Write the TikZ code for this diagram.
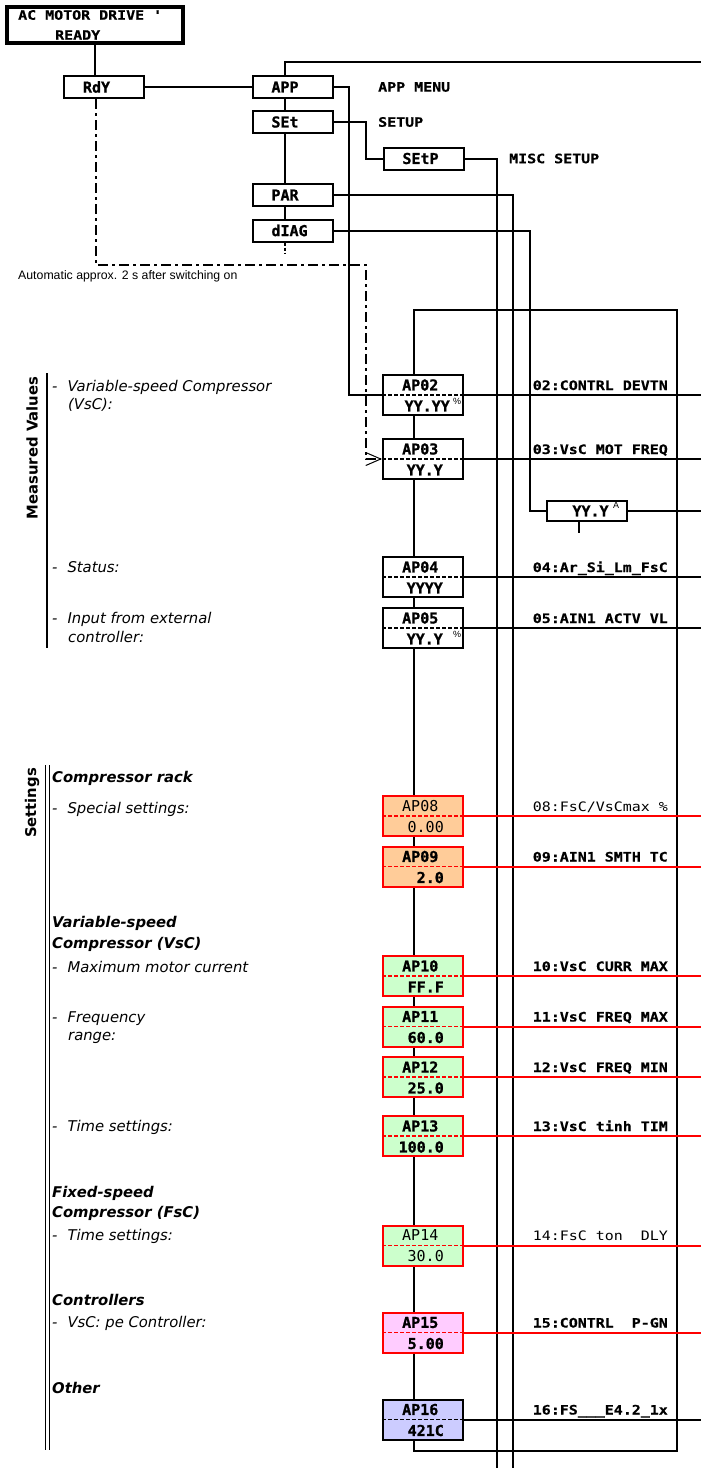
\documentclass[tikz,border=0pt]{standalone}
\usepackage{fontspec}
\setmainfont{DejaVu Sans}
\newfontfamily\lblmono[FakeStretch=1.15, BoldFeatures={FakeBold=0.5}]{DejaVu Sans Mono}
\newfontfamily\lcdmono[BoldFeatures={FakeBold=1}]{DejaVu Sans Mono}
\newfontfamily\smallsans{Liberation Sans}
\usetikzlibrary{arrows.meta}
\definecolor{peach}{HTML}{FFCC99}
\definecolor{mint}{HTML}{CCFFCC}
\definecolor{pinkf}{HTML}{FFCCFF}
\definecolor{lav}{HTML}{CCCCFF}
\definecolor{redl}{HTML}{FF0000}
\tikzset{
  ln/.style={line width=2pt},
  lbox/.style={draw, line width=2pt, fill=white, minimum width=80pt, minimum height=22pt,
    inner xsep=19pt, inner ysep=0pt, text width=42pt, align=left,
    font=\lcdmono\fontsize{15}{15}\selectfont\bfseries},
  apbox/.style={draw, line width=2pt, minimum width=80pt, minimum height=40pt, inner sep=0pt},
  aptitle/.style={inner sep=0pt, anchor=west},
  apvalue/.style={inner sep=0pt, anchor=east},
  lbl/.style={inner sep=0pt, anchor=base east},
  menu/.style={inner sep=0pt, anchor=west, font=\lblmono\fontsize{13}{15}\selectfont\bfseries},
  itxt/.style={inner sep=0pt, anchor=base west, font=\fontsize{14.8}{17}\selectfont\itshape},
  btxt/.style={inner sep=0pt, anchor=base west, font=\fontsize{14.8}{17}\selectfont\bfseries\itshape},
  supx/.style={inner sep=0pt, font=\smallsans\fontsize{9}{10}\selectfont},
  dashdot/.style={line width=1.5pt, dash pattern=on 10pt off 4pt on 3pt off 4pt},
  divider/.style={line width=1.2pt, dash pattern=on 4pt off 2pt},
}
% #1 name, #2 centre y, #3 title, #4 value, #5 fill, #6 line colour, #7 weight, #8 value right x, #9 label
\newcommand\APbox[9]{%
  \node[apbox, fill=#5, draw=#6] (#1) at (423,#2) {};
  \draw[divider, draw=#6] (#1.west) -- (#1.east);
  \node[aptitle, font=\lcdmono\fontsize{15}{15}\selectfont#7] (#1t) at (402,#2-10) {#3};
  \node[apvalue, font=\lcdmono\fontsize{15}{15}\selectfont#7] (#1v) at (#8,#2+11) {#4};
  \coordinate (#1r) at (701,#2);
  \draw[ln, draw=#6] (#1.east) -- (#1r);
  \node[lbl, font=\lblmono\fontsize{13}{15}\selectfont#7] (#1l) at (668,#2-5) {#9};
}
\begin{document}
\begin{tikzpicture}[x=1pt,y=-1pt]
\useasboundingbox (0,0) rectangle (701,1468);

% helper coordinates
\coordinate (xa) at (285,0);
\coordinate (xb) at (96,0);
\coordinate (xc) at (349,0);
\coordinate (xd) at (366,0);
\coordinate (xe) at (530,0);
\coordinate (xf) at (579,0);
\coordinate (topright) at (701,62);
\coordinate (diagend) at (285,254);
\coordinate (bot1) at (497,1468);
\coordinate (bot2) at (513,1468);
\coordinate (ddcorner) at (366,265);
\coordinate (ampstub) at (579,533);
\coordinate (ampR) at (701,511);
\coordinate (loopTL) at (414,310);
\coordinate (loopTR) at (677,310);
\coordinate (loopBR) at (677,1451);
\coordinate (loopBL) at (414,1451);
\coordinate (mvtop) at (47,373);
\coordinate (mvbot) at (47,648);
\coordinate (stAtop) at (45.5,765);
\coordinate (stAbot) at (45.5,1450);
\coordinate (stBtop) at (49.5,765);
\coordinate (stBbot) at (49.5,1450);

% loop of the parameter chain
\draw[ln] (loopBL) -- (loopTL) -- (loopTR) -- (loopBR) -- cycle;

% top part
\node[draw, line width=4pt, minimum width=176pt, minimum height=36pt, inner sep=0pt] (drive) at (95,25) {};
\node[menu] (drivet1) at (18,15) {AC MOTOR DRIVE \textquotesingle};
\node[menu] (drivet2) at (55,35) {READY};

\node[lbox] (RdY) at (104,87) {RdY};
\node[lbox] (APP) at (292.5,87) {APP};
\node[lbox] (SEt) at (292.5,122) {SEt};
\node[lbox] (PAR) at (292.5,195) {PAR};
\node[lbox] (dIAG) at (292.5,230.5) {dIAG};
\node[lbox] (SEtP) at (423.5,158.5) {SEtP};

\node[menu] (appmenu) at (378,87) {APP MENU};
\node[menu] (setup) at (378,122) {SETUP};
\node[menu] (misc) at (509,158.5) {MISC SETUP};

\node[inner sep=0pt, anchor=west, font=\smallsans\fontsize{12.3}{14}\selectfont] (autotxt) at (18,276) {Automatic approx. 2 s after switching on};

\draw[ln] (drive.south) -- (drive.south |- RdY.north);
\draw[ln] (RdY.east) -- (APP.west);
\draw[ln] (xa |- APP.north) |- (topright);
\draw[ln] (xa |- APP.south) -- (xa |- SEt.north);
\draw[ln] (xa |- SEt.south) -- (xa |- PAR.north);
\draw[ln] (xa |- PAR.south) -- (xa |- dIAG.north);
\draw[line width=1.5pt, dash pattern=on 3pt off 2pt] (xa |- dIAG.south) -- (diagend);
\draw[ln] (SEt.east) -| (xd |- SEtP.west) -- (SEtP.west);
\draw[ln] (SEtP.east) -| (bot1);
\draw[ln] (PAR.east) -| (bot2);

% extra value box
\node[draw, line width=2pt, minimum width=80pt, minimum height=20pt, inner sep=0pt, fill=white] (amp) at (587,511) {};
\node[inner sep=0pt, font=\lcdmono\fontsize{15}{15}\selectfont\bfseries] (ampv) at (590.5,511) {YY.Y};
\node[supx] (ampu) at (616,505) {A};
\draw[ln] (dIAG.east) -| (xe |- amp.west) -- (amp.west);
\draw[ln] (amp.east) -- (ampR);
\draw[ln] (xf |- amp.south) -- (ampstub);

% parameter boxes
\APbox{AP02}{395}{AP02}{YY.YY}{white}{black}{\bfseries}{450}{02:CONTRL DEVTN}
\APbox{AP03}{459}{AP03}{YY.Y}{white}{black}{\bfseries}{443}{03:VsC MOT FREQ}
\APbox{AP04}{577}{AP04}{YYYY}{white}{black}{\bfseries}{443}{04:Ar\_Si\_Lm\_FsC}
\APbox{AP05}{628}{AP05}{YY.Y}{white}{black}{\bfseries}{443}{05:AIN1 ACTV VL}
\APbox{AP08}{816}{AP08}{0.00}{peach}{redl}{\mdseries}{444}{08:FsC/VsCmax \%}
\APbox{AP09}{866.5}{AP09}{2.0}{peach}{redl}{\bfseries}{444}{09:AIN1 SMTH TC}
\APbox{AP10}{976}{AP10}{FF.F}{mint}{redl}{\bfseries}{444}{10:VsC CURR MAX}
\APbox{AP11}{1026.5}{AP11}{60.0}{mint}{redl}{\bfseries}{444}{11:VsC FREQ MAX}
\APbox{AP12}{1077}{AP12}{25.0}{mint}{redl}{\bfseries}{444}{12:VsC FREQ MIN}
\APbox{AP13}{1136}{AP13}{100.0}{mint}{redl}{\bfseries}{444}{13:VsC tinh TIM}
\APbox{AP14}{1245.5}{AP14}{30.0}{mint}{redl}{\mdseries}{444}{14:FsC ton\ \ DLY}
\APbox{AP15}{1332.5}{AP15}{5.00}{pinkf}{redl}{\bfseries}{444}{15:CONTRL\ \ P-GN}
\APbox{AP16}{1419.5}{AP16}{421C}{lav}{black}{\bfseries}{444}{16:FS\_\_\_E4.2\_1x}
\node[supx] (AP02u) at (457,401) {\%};
\node[supx] (AP05u) at (457,634) {\%};

\draw[ln] (APP.east) -| (xc |- AP02.west) -- (AP02.west);
\draw[dashdot, -{Straight Barb[length=15pt,width=13pt,line width=1pt]}] (xb |- RdY.south) |- (ddcorner) |- (AP03.west);

% left column
\node[rotate=90, inner sep=0pt, font=\fontsize{14.8}{17}\selectfont\bfseries] (mv) at (32,448) {Measured Values};
\node[rotate=90, inner sep=0pt, font=\fontsize{14.8}{17}\selectfont\bfseries] (st) at (32,803) {Settings};
\draw[line width=2pt] (mvtop) -- (mvbot);
\draw[line width=1.5pt] (stAtop) -- (stAbot);
\draw[line width=1.5pt] (stBtop) -- (stBbot);

\node[itxt] (t1) at (52,391) {-\hspace{10pt}Variable-speed Compressor};
\node[itxt] (t1b) at (68,409) {(VsC):};
\node[itxt] (t2) at (52,572) {-\hspace{10pt}Status:};
\node[itxt] (t3) at (52,623) {-\hspace{10pt}Input from external};
\node[itxt] (t3b) at (68,642) {controller:};
\node[btxt] (s1) at (52,782) {Compressor rack};
\node[itxt] (s1a) at (52,813) {-\hspace{10pt}Special settings:};
\node[btxt] (s2) at (52,927) {Variable-speed};
\node[btxt] (s2b) at (52,948) {Compressor (VsC)};
\node[itxt] (s2c) at (52,972) {-\hspace{10pt}Maximum motor current};
\node[itxt] (s2d) at (52,1022) {-\hspace{10pt}Frequency};
\node[itxt] (s2e) at (68,1040) {range:};
\node[itxt] (s2f) at (52,1131) {-\hspace{10pt}Time settings:};
\node[btxt] (s3) at (52,1197) {Fixed-speed};
\node[btxt] (s3b) at (52,1217) {Compressor (FsC)};
\node[itxt] (s3c) at (52,1240) {-\hspace{10pt}Time settings:};
\node[btxt] (s4) at (52,1305) {Controllers};
\node[itxt] (s4a) at (52,1327) {-\hspace{10pt}VsC: pe Controller:};
\node[btxt] (s5) at (52,1393) {Other};
\end{tikzpicture}
\end{document}
